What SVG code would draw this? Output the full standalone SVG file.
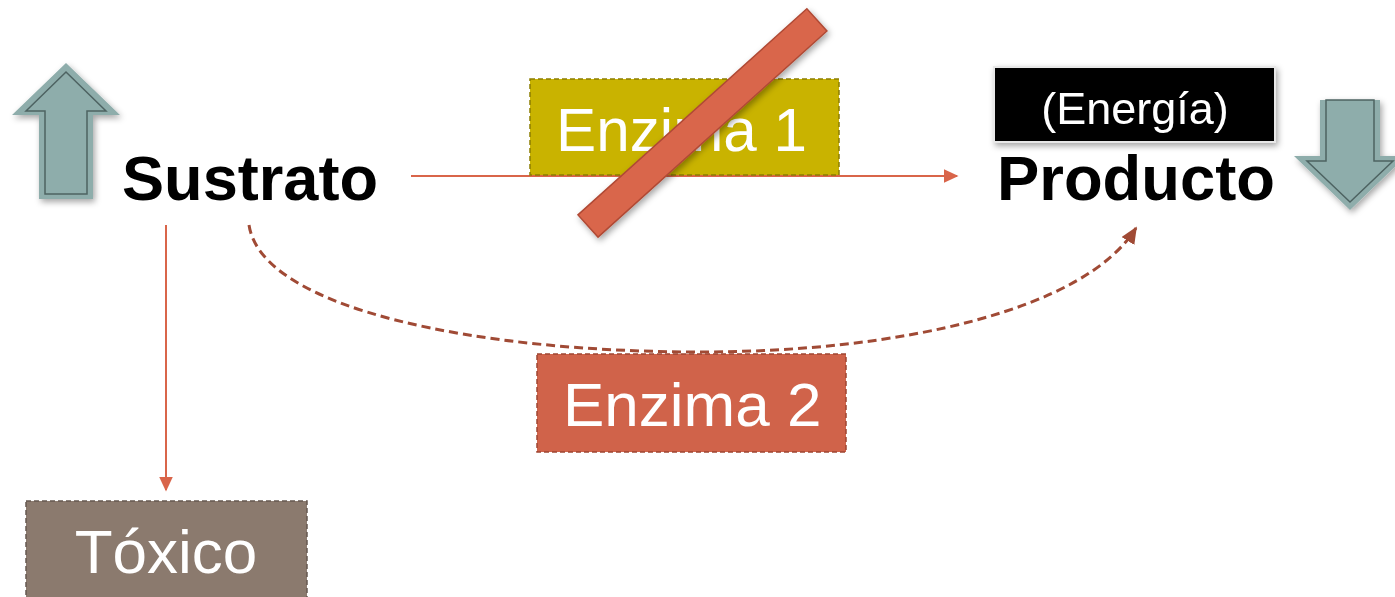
<svg xmlns="http://www.w3.org/2000/svg" width="1395" height="597" viewBox="0 0 1395 597">
<defs>
<style>
.big{font-family:"Liberation Sans",Arial,sans-serif;font-size:62px;fill:#ffffff}
.bold{font-family:"Liberation Sans",Arial,sans-serif;font-size:63px;font-weight:bold;fill:#000000}
.updown{fill:#8eadab}
.inner{fill:none;stroke:#4e6362;stroke-width:1.5}
.solid{stroke:#d9654a;stroke-width:2;fill:none}
</style>
<filter id="sh" x="-30%" y="-30%" width="160%" height="160%">
<feDropShadow dx="2" dy="3" stdDeviation="3" flood-color="#000" flood-opacity="0.35"/>
</filter>
<marker id="ah" viewBox="0 0 10 10" refX="9" refY="5" markerWidth="15" markerHeight="14" markerUnits="userSpaceOnUse" orient="auto" preserveAspectRatio="none">
<path d="M0,0 L10,5 L0,10 z" fill="#d9654a"/>
</marker>
<marker id="ah2" viewBox="0 0 10 10" refX="9" refY="5" markerWidth="17" markerHeight="15" markerUnits="userSpaceOnUse" orient="auto" preserveAspectRatio="none">
<path d="M0,0 L10,5 L0,10 z" fill="#a04a35"/>
</marker>
</defs>

<g id="arrow-up" filter="url(#sh)">
<polygon class="updown" points="66,63 120,115 93,115 93,199 39,199 39,115 12,115"/>
<polygon class="inner" points="66,72 106,111 87,111 87,194 45,194 45,111 26,111"/>
</g>

<g id="arrow-down" filter="url(#sh)">
<polygon class="updown" points="1320,100 1380,100 1380,156 1406,156 1350,210 1294,156 1320,156"/>
<polygon class="inner" points="1326,100 1374,100 1374,161 1393,161 1350,202 1307,161 1326,161"/>
</g>

<g id="connectors">
<line class="solid" x1="411" y1="176" x2="957" y2="176" marker-end="url(#ah)"/>
<line class="solid" x1="166" y1="225" x2="166" y2="490" marker-end="url(#ah)"/>
<path d="M249,225 C262,310 480,352 700,352 C900,352 1085,310 1136,228" fill="none" stroke="#a04a35" stroke-width="3" stroke-dasharray="9,5" marker-end="url(#ah2)"/>
</g>

<g id="enzima1">
<rect x="530" y="79" width="309" height="96" fill="#c9b300" stroke="#8c7d00" stroke-width="1.5" stroke-dasharray="5,3"/>
<text class="big" x="556" y="151" textLength="251" lengthAdjust="spacingAndGlyphs">Enzima 1</text>
</g>

<g id="slash" filter="url(#sh)">
<rect x="0" y="-15" width="308" height="30" fill="#d9664b" stroke="#b04a35" stroke-width="1.5" transform="translate(588,226) rotate(-42)"/>
</g>

<g id="energia" filter="url(#sh)">
<rect x="994" y="67" width="281" height="75" fill="#000" stroke="#e8e8e8" stroke-width="2"/>
<text x="1135" y="124" text-anchor="middle" font-family="Liberation Sans, Arial, sans-serif" font-size="45" fill="#fff">(Energía)</text>
</g>

<g id="sustrato">
<text class="bold" x="122" y="200" textLength="256" lengthAdjust="spacingAndGlyphs">Sustrato</text>
</g>

<g id="producto">
<text class="bold" x="997" y="200" textLength="278" lengthAdjust="spacingAndGlyphs">Producto</text>
</g>

<g id="enzima2">
<rect x="537" y="354" width="309" height="98" fill="#d0634a" stroke="#9e4532" stroke-width="1.5" stroke-dasharray="5,3"/>
<text class="big" x="563" y="426">Enzima 2</text>
</g>

<g id="toxico">
<rect x="26" y="501" width="281" height="110" fill="#8b7a6e" stroke="#665850" stroke-width="1.5" stroke-dasharray="5,3"/>
<text class="big" x="166" y="573" text-anchor="middle">Tóxico</text>
</g>
</svg>
